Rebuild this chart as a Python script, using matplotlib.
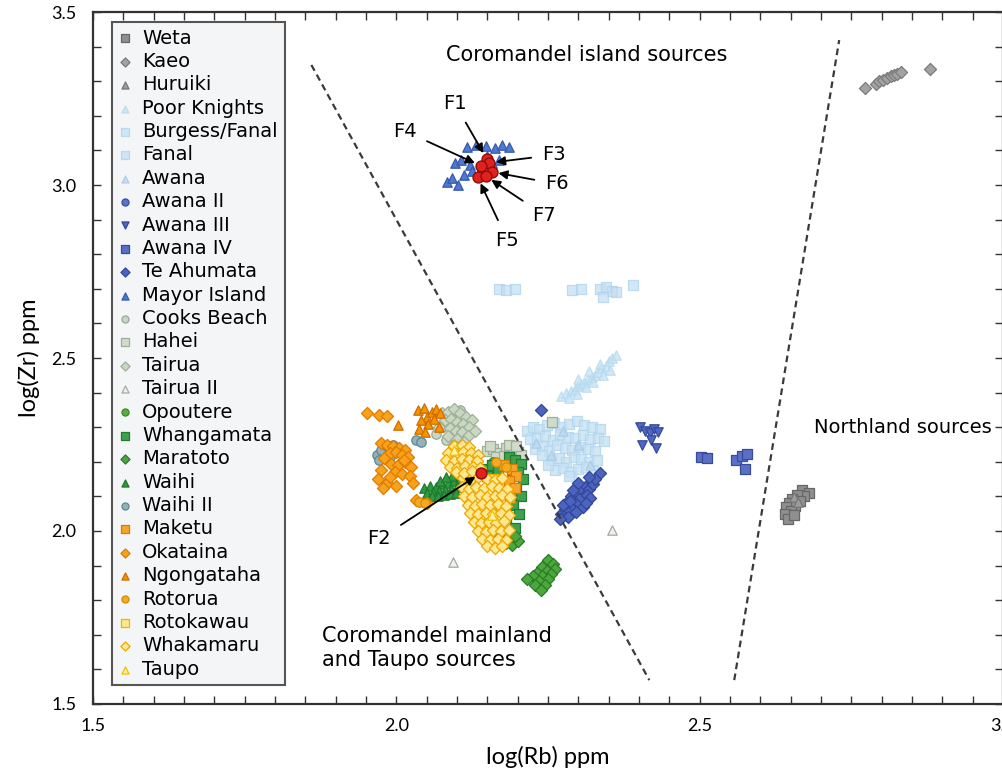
import matplotlib.pyplot as plt
from matplotlib.ticker import MultipleLocator

# log(Rb) ppm / log(Zr) ppm for each obsidian source
weta_x = [2.668, 2.680, 2.672, 2.660, 2.652, 2.665, 2.648, 2.657, 2.642, 2.650, 2.640, 2.645, 2.655]
weta_y = [2.118, 2.110, 2.100, 2.105, 2.092, 2.088, 2.080, 2.072, 2.068, 2.058, 2.050, 2.035, 2.045]

kaeo_x = [2.772, 2.790, 2.795, 2.803, 2.808, 2.815, 2.820, 2.826, 2.832, 2.880]
kaeo_y = [3.280, 3.292, 3.300, 3.303, 3.310, 3.314, 3.318, 3.322, 3.326, 3.336]

huruiki_x = [2.655, 2.662]
huruiki_y = [2.098, 2.085]

poor_knights_x = [2.272, 2.280, 2.288, 2.295, 2.300, 2.305, 2.310, 2.316, 2.322, 2.328, 2.333, 2.338, 2.345,
                  2.350, 2.356, 2.362, 2.285, 2.298, 2.312, 2.325, 2.340, 2.352, 2.300, 2.318, 2.335]
poor_knights_y = [2.390, 2.398, 2.405, 2.410, 2.420, 2.425, 2.432, 2.440, 2.446, 2.452, 2.460, 2.470, 2.478,
                  2.490, 2.500, 2.510, 2.385, 2.395, 2.415, 2.430, 2.450, 2.465, 2.440, 2.462, 2.482]

burgess_x = [2.215, 2.225, 2.235, 2.248, 2.260, 2.272, 2.285, 2.298, 2.310, 2.322, 2.335, 2.220, 2.232, 2.245,
             2.258, 2.270, 2.283, 2.295, 2.308, 2.320, 2.332, 2.342, 2.228, 2.240, 2.252, 2.265, 2.278, 2.290,
             2.303, 2.316, 2.328, 2.255, 2.268, 2.280, 2.293, 2.305, 2.318, 2.330, 2.262, 2.275, 2.288, 2.300,
             2.312, 2.325, 2.250, 2.240, 2.285]
burgess_y = [2.290, 2.300, 2.295, 2.305, 2.312, 2.300, 2.310, 2.318, 2.305, 2.300, 2.295, 2.265, 2.270, 2.275,
             2.262, 2.280, 2.272, 2.268, 2.278, 2.265, 2.270, 2.260, 2.238, 2.245, 2.232, 2.248, 2.240, 2.235,
             2.242, 2.236, 2.230, 2.205, 2.212, 2.200, 2.215, 2.208, 2.198, 2.205, 2.175, 2.182, 2.170, 2.178,
             2.185, 2.172, 2.190, 2.220, 2.160]

fanal_x = [2.170, 2.180, 2.195, 2.290, 2.305, 2.335, 2.345, 2.355, 2.362, 2.340, 2.390]
fanal_y = [2.700, 2.697, 2.700, 2.697, 2.700, 2.700, 2.705, 2.695, 2.690, 2.675, 2.712]

awana_x = [2.230, 2.255, 2.300, 2.320, 2.275]
awana_y = [2.255, 2.220, 2.250, 2.190, 2.290]

awana2_x = [2.290, 2.310]
awana2_y = [2.090, 2.120]

awana3_x = [2.402, 2.410, 2.418, 2.425, 2.432, 2.420, 2.405, 2.428]
awana3_y = [2.300, 2.290, 2.282, 2.295, 2.285, 2.262, 2.250, 2.240]

awana4_x = [2.502, 2.512, 2.560, 2.570, 2.578, 2.575]
awana4_y = [2.213, 2.210, 2.205, 2.218, 2.222, 2.180]

te_ahumata_x = [2.239, 2.336, 2.272, 2.278, 2.285, 2.280, 2.290, 2.295, 2.300, 2.288, 2.298, 2.305, 2.310,
                2.302, 2.312, 2.318, 2.322, 2.315, 2.325, 2.328, 2.275, 2.292, 2.308, 2.320, 2.283, 2.296,
                2.313, 2.270, 2.286, 2.300, 2.317]
te_ahumata_y = [2.350, 2.168, 2.050, 2.065, 2.060, 2.082, 2.075, 2.090, 2.085, 2.100, 2.110, 2.098, 2.115,
                2.125, 2.130, 2.120, 2.140, 2.105, 2.135, 2.150, 2.075, 2.118, 2.068, 2.095, 2.040, 2.055,
                2.080, 2.035, 2.088, 2.140, 2.155]

mayor_x = [2.117, 2.132, 2.147, 2.162, 2.175, 2.186, 2.096, 2.107, 2.121, 2.157, 2.170, 2.083, 2.091, 2.101,
           2.112, 2.124, 2.140, 2.150]
mayor_y = [3.110, 3.116, 3.113, 3.107, 3.116, 3.110, 3.064, 3.072, 3.058, 3.064, 3.072, 3.009, 3.020, 3.000,
           3.030, 3.040, 3.050, 3.085]

cooks_x = [2.065, 2.075, 2.090, 2.105, 2.120, 2.082]
cooks_y = [2.280, 2.300, 2.330, 2.350, 2.310, 2.262]

hahei_x = [2.150, 2.160, 2.170, 2.180, 2.190, 2.200, 2.165, 2.178, 2.192, 2.205, 2.185, 2.257, 2.155, 2.198]
hahei_y = [2.230, 2.238, 2.225, 2.240, 2.232, 2.228, 2.215, 2.218, 2.212, 2.220, 2.250, 2.315, 2.245, 2.245]

tairua_x = [2.075, 2.085, 2.095, 2.105, 2.115, 2.125, 2.080, 2.090, 2.100, 2.110, 2.120, 2.130, 2.070, 2.088,
            2.098, 2.108, 2.118, 2.085, 2.100, 2.112, 2.095]
tairua_y = [2.340, 2.345, 2.352, 2.340, 2.330, 2.320, 2.320, 2.325, 2.315, 2.310, 2.300, 2.290, 2.300, 2.298,
            2.288, 2.285, 2.275, 2.275, 2.265, 2.258, 2.250]

tairua2_x = [2.356, 2.093]
tairua2_y = [2.003, 1.910]

opoutere_x = [2.120, 2.160, 2.190]
opoutere_y = [2.175, 2.200, 2.160]

whangamata_x = [2.185, 2.195, 2.205, 2.190, 2.200, 2.208, 2.185, 2.198, 2.205, 2.192, 2.203, 2.180, 2.195,
                2.170, 2.180, 2.130, 2.145, 2.158, 2.168, 2.135, 2.150]
whangamata_y = [2.215, 2.205, 2.195, 2.180, 2.170, 2.150, 2.140, 2.120, 2.100, 2.075, 2.050, 2.030, 2.010,
                1.990, 1.970, 2.185, 2.178, 2.190, 2.175, 2.165, 2.160]

maratoto_x = [2.250, 2.258, 2.262, 2.240, 2.248, 2.255, 2.232, 2.240, 2.250, 2.225, 2.235, 2.215, 2.228,
              2.245, 2.238, 2.170, 2.180, 2.190, 2.200, 2.185, 2.195]
maratoto_y = [1.915, 1.905, 1.890, 1.895, 1.885, 1.875, 1.880, 1.870, 1.860, 1.870, 1.855, 1.860, 1.845,
              1.845, 1.830, 1.975, 1.965, 1.960, 1.970, 1.990, 1.985]

waihi_x = [2.045, 2.055, 2.065, 2.075, 2.085, 2.095, 2.105, 2.050, 2.060, 2.070, 2.080, 2.090, 2.100, 2.110,
           2.058, 2.068, 2.078, 2.088, 2.098, 2.072, 2.092, 2.108, 2.082]
waihi_y = [2.125, 2.130, 2.128, 2.135, 2.140, 2.145, 2.150, 2.110, 2.112, 2.115, 2.118, 2.122, 2.128, 2.135,
           2.100, 2.102, 2.105, 2.108, 2.110, 2.145, 2.160, 2.170, 2.155]

waihi2_x = [1.968, 1.975, 1.985, 1.995, 2.002, 1.972, 1.990, 2.032, 2.040]
waihi2_y = [2.220, 2.235, 2.245, 2.250, 2.240, 2.205, 2.215, 2.262, 2.258]

maketu_x = [2.178, 2.190, 2.198, 2.185, 2.195, 2.175, 2.188, 2.165, 2.155]
maketu_y = [2.190, 2.180, 2.160, 2.145, 2.125, 2.110, 2.095, 2.060, 2.020]

okataina_x = [1.951, 1.972, 1.984, 1.975, 1.985, 1.995, 2.005, 2.015, 1.990, 2.000, 2.010, 2.020, 1.980,
              1.992, 2.003, 2.015, 2.025, 1.975, 1.998, 2.010, 2.022, 1.970, 1.985, 2.028, 1.978, 2.000,
              2.033, 2.051, 1.990, 2.012]
okataina_y = [2.341, 2.335, 2.332, 2.255, 2.250, 2.245, 2.240, 2.235, 2.225, 2.228, 2.220, 2.215, 2.210,
              2.195, 2.190, 2.198, 2.185, 2.175, 2.170, 2.165, 2.160, 2.150, 2.140, 2.140, 2.125, 2.130,
              2.090, 2.081, 2.155, 2.205]

ngongataha_x = [2.002, 2.035, 2.045, 2.050, 2.058, 2.065, 2.072, 2.040, 2.052, 2.062, 2.038, 2.048, 2.070]
ngongataha_y = [2.306, 2.350, 2.355, 2.330, 2.345, 2.352, 2.340, 2.320, 2.310, 2.325, 2.295, 2.285, 2.300]

rotorua_x = [2.038, 2.048, 2.180, 2.165]
rotorua_y = [2.085, 2.082, 2.185, 2.200]

rotokawau_x = [2.115, 2.140, 2.165, 2.128, 2.152, 2.178, 2.145, 2.170, 2.100, 2.118, 2.160]
rotokawau_y = [2.140, 2.112, 2.088, 2.062, 2.038, 2.012, 1.990, 1.965, 2.215, 2.195, 2.150]

whakamaru_x = [2.110, 2.122, 2.135, 2.150, 2.162, 2.175,
               2.108, 2.120, 2.132, 2.145, 2.158, 2.170, 2.182,
               2.112, 2.125, 2.138, 2.150, 2.162, 2.175, 2.188,
               2.118, 2.130, 2.142, 2.155, 2.168, 2.180,
               2.122, 2.135, 2.148, 2.160, 2.172, 2.185,
               2.128, 2.140, 2.152, 2.165, 2.178,
               2.135, 2.148, 2.160, 2.172, 2.185,
               2.142, 2.155, 2.168, 2.180,
               2.150, 2.162, 2.175,
               2.095, 2.108, 2.120,
               2.085, 2.098, 2.110, 2.123, 2.135,
               2.082, 2.095, 2.108, 2.120, 2.133,
               2.088, 2.100, 2.113, 2.126, 2.138,
               2.098, 2.112, 2.125]
whakamaru_y = [2.152, 2.148, 2.155, 2.150, 2.146, 2.152,
               2.127, 2.122, 2.128, 2.124, 2.130, 2.125, 2.121,
               2.102, 2.098, 2.103, 2.097, 2.101, 2.104, 2.098,
               2.076, 2.073, 2.078, 2.074, 2.077, 2.072,
               2.051, 2.048, 2.053, 2.049, 2.052, 2.047,
               2.026, 2.022, 2.027, 2.024, 2.028,
               2.001, 1.998, 2.003, 1.999, 2.002,
               1.976, 1.973, 1.978, 1.974,
               1.956, 1.952, 1.957,
               2.245, 2.248, 2.243,
               2.226, 2.223, 2.228, 2.224, 2.221,
               2.206, 2.203, 2.208, 2.204, 2.201,
               2.186, 2.183, 2.188, 2.184, 2.181,
               2.171, 2.168, 2.172]

taupo_x = [2.158, 2.095]
taupo_y = [2.045, 2.235]

# artefact samples
artefact_labels = ["F1", "F2", "F3", "F4", "F5", "F6", "F7"]
artefact_x = [2.149, 2.140, 2.153, 2.140, 2.134, 2.157, 2.147]
artefact_y = [3.075, 2.168, 3.064, 3.055, 3.023, 3.038, 3.026]
artefact_label_x = [2.096, 1.972, 2.260, 2.014, 2.183, 2.265, 2.244]
artefact_label_y = [3.237, 1.977, 3.087, 3.156, 2.841, 3.003, 2.913]

# source division lines
left_line_x = [1.860, 2.417]
left_line_y = [3.347, 1.569]
right_line_x = [2.557, 2.730]
right_line_y = [1.569, 3.419]

# name, x, y, marker, face, edge, alpha
sources = [
    ("Weta", weta_x, weta_y, "s", "#8f8f8f", "#676767", 1.0),
    ("Kaeo", kaeo_x, kaeo_y, "D", "#a3a3a3", "#7b7b7b", 1.0),
    ("Huruiki", huruiki_x, huruiki_y, "^", "#9c9c9c", "#777777", 1.0),
    ("Poor Knights", poor_knights_x, poor_knights_y, "^", "#c7e4f4", "#b5d9ef", 0.8),
    ("Burgess/Fanal", burgess_x, burgess_y, "s", "#c6e1f2", "#b2d5ec", 0.8),
    ("Fanal", fanal_x, fanal_y, "s", "#c2def3", "#a9d0ec", 0.7),
    ("Awana", awana_x, awana_y, "^", "#bcd8ef", "#a6c8e6", 0.8),
    ("Awana II", awana2_x, awana2_y, "o", "#5a72c8", "#3a4f9e", 1.0),
    ("Awana III", awana3_x, awana3_y, "v", "#4f69c3", "#34489a", 1.0),
    ("Awana IV", awana4_x, awana4_y, "s", "#5a6fc6", "#3a4b9c", 1.0),
    ("Te Ahumata", te_ahumata_x, te_ahumata_y, "D", "#4d64bf", "#33479a", 1.0),
    ("Mayor Island", mayor_x, mayor_y, "^", "#4f79d0", "#3659b0", 1.0),
    ("Cooks Beach", cooks_x, cooks_y, "o", "#c9d5c5", "#97a896", 1.0),
    ("Hahei", hahei_x, hahei_y, "s", "#d0dcc9", "#9eae98", 1.0),
    ("Tairua", tairua_x, tairua_y, "D", "#cad8c3", "#9fb098", 1.0),
    ("Tairua II", tairua2_x, tairua2_y, "^", "#eef0ec", "#a3aca3", 1.0),
    ("Opoutere", opoutere_x, opoutere_y, "o", "#5cad3f", "#3c862a", 1.0),
    ("Whangamata", whangamata_x, whangamata_y, "s", "#3da24b", "#237a35", 1.0),
    ("Maratoto", maratoto_x, maratoto_y, "D", "#4ca83b", "#2a7c2a", 1.0),
    ("Waihi", waihi_x, waihi_y, "^", "#2f9a40", "#1d7a2f", 1.0),
    ("Waihi II", waihi2_x, waihi2_y, "o", "#93b2b9", "#5b8a94", 1.0),
    ("Maketu", maketu_x, maketu_y, "s", "#f6a52a", "#d97c00", 1.0),
    ("Okataina", okataina_x, okataina_y, "D", "#f8a21c", "#e07b00", 1.0),
    ("Ngongataha", ngongataha_x, ngongataha_y, "^", "#f39400", "#d06c00", 1.0),
    ("Rotorua", rotorua_x, rotorua_y, "o", "#f5aa22", "#d68800", 1.0),
    ("Rotokawau", rotokawau_x, rotokawau_y, "s", "#fde88e", "#efb300", 1.0),
    ("Whakamaru", whakamaru_x, whakamaru_y, "D", "#fde88f", "#f0a500", 1.0),
    ("Taupo", taupo_x, taupo_y, "^", "#fef2a8", "#efc000", 1.0),
]

fig = plt.figure(figsize=(10.03, 7.76), dpi=100)
ax = fig.add_axes([0.0927, 0.0928, 0.9073, 0.8917])

for name, xs, ys, marker, face, edge, alpha in sources:
    size = 46 if marker != "D" else 38
    ax.scatter(xs, ys, s=size, marker=marker, facecolor=face, edgecolor=edge,
               linewidths=0.9, alpha=alpha, label=name)

ax.plot(left_line_x, left_line_y, color="#3a3a3a", lw=1.6, ls=(0, (3, 2)))
ax.plot(right_line_x, right_line_y, color="#3a3a3a", lw=1.6, ls=(0, (3, 2)))

ax.scatter(artefact_x, artefact_y, s=62, marker="o", facecolor="#e3211c",
           edgecolor="#8a0d0d", linewidths=1.0, zorder=5)

for lab, px, py, tx, ty in zip(artefact_labels, artefact_x, artefact_y,
                               artefact_label_x, artefact_label_y):
    ax.annotate(lab, xy=(px, py), xytext=(tx, ty), fontsize=14, ha="center", va="center",
                arrowprops=dict(arrowstyle="-|>", color="black", lw=1.3,
                                mutation_scale=13, shrinkA=6, shrinkB=5), zorder=6)

ax.text(2.313, 3.376, "Coromandel island sources", fontsize=15, ha="center", va="center")
ax.text(2.835, 2.298, "Northland sources", fontsize=14, ha="center", va="center")
ax.text(1.877, 1.663, "Coromandel mainland\nand Taupo sources", fontsize=15,
        ha="left", va="center", linespacing=1.25)

ax.set_xlim(1.5, 3.0)
ax.set_ylim(1.5, 3.5)
ax.xaxis.set_major_locator(MultipleLocator(0.5))
ax.xaxis.set_minor_locator(MultipleLocator(0.05))
ax.yaxis.set_major_locator(MultipleLocator(0.5))
ax.yaxis.set_minor_locator(MultipleLocator(0.1))
ax.set_xticklabels([f"{v:.1f}" for v in ax.get_xticks()])
ax.tick_params(which="both", direction="in", top=True, right=True, length=6,
               width=1, color="#333333", labelsize=13)
ax.tick_params(axis="x", pad=10)
ax.tick_params(axis="y", pad=12)
for lbl in ax.get_xticklabels() + ax.get_yticklabels():
    lbl.set_family("Lato")
for sp in ax.spines.values():
    sp.set_linewidth(1.6)
    sp.set_color("#333333")

ax.set_xlabel("log(Rb) ppm", fontsize=17, family="Lato", labelpad=9)
ax.set_ylabel("log(Zr) ppm", fontsize=17, family="Lato", labelpad=8)

leg = ax.legend(loc="upper left", bbox_to_anchor=(0.021, 0.986), borderaxespad=0,
                fontsize=14, labelspacing=0.225, handlelength=0.6, handletextpad=0.6,
                borderpad=0.35, markerscale=0.75, fancybox=False, framealpha=1)
leg.get_frame().set_edgecolor("#555555")
leg.get_frame().set_linewidth(1.5)
leg.get_frame().set_facecolor("#f3f5f7")

plt.savefig("out.png", dpi=100)
plt.close()
